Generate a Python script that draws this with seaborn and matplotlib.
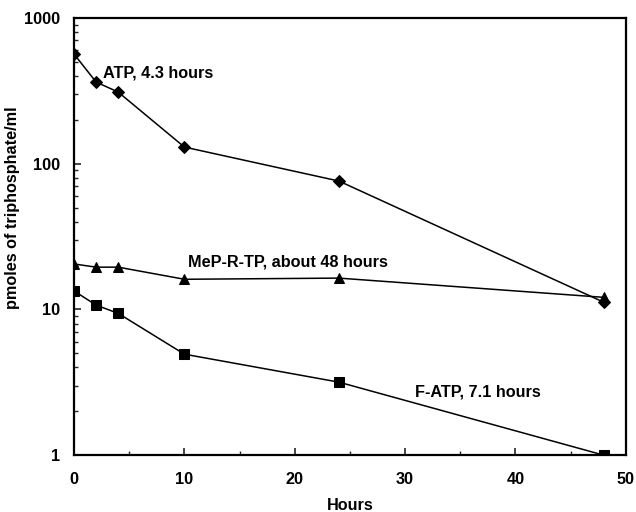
import matplotlib
matplotlib.use("Agg")
import matplotlib.pyplot as plt
import matplotlib.ticker as mticker
import seaborn as sns
import pandas as pd

sns.set_theme(style="ticks")
plt.rcParams['font.family'] = ['Liberation Sans', 'DejaVu Sans']

# data
hours = [0, 2, 4, 10, 24, 48]
atp = [565, 363, 310, 130, 76, 11.2]
mep_r_tp = [20.5, 19.5, 19.5, 16.1, 16.4, 12.1]
f_atp = [13.4, 10.7, 9.4, 4.93, 3.17, 1.0]

series_names = ["ATP", "MeP-R-TP", "F-ATP"]
series_values = [atp, mep_r_tp, f_atp]
series_markers = ["D", "^", "s"]
series_sizes = [6, 7, 7]
labels = ["ATP, 4.3 hours", "MeP-R-TP, about 48 hours", "F-ATP, 7.1 hours"]
label_pos = [(2.65, 419), (10.3, 21.1), (30.9, 2.71)]

fs = 11.7

fig = plt.figure(figsize=(6.36, 5.12), dpi=100)
ax = fig.add_axes([0.1164, 0.111, 0.8676, 0.854])

for name, vals, mk, ms in zip(series_names, series_values, series_markers, series_sizes):
    df = pd.DataFrame({"Hours": hours, "value": vals})
    sns.lineplot(data=df, x="Hours", y="value", ax=ax, color="black",
                 linewidth=1.1, marker=mk, markersize=ms,
                 markeredgecolor="black", markerfacecolor="black")

for txt, (x, y) in zip(labels, label_pos):
    ax.text(x, y, txt, fontsize=fs, fontweight="bold", va="center", ha="left", color="black")

ax.set_yscale("log")
ax.set_xlim(0, 50)
ax.set_ylim(1, 1000)
ax.set_xticks([0, 10, 20, 30, 40, 50])
ax.xaxis.set_minor_locator(mticker.MultipleLocator(5))
ax.yaxis.set_major_formatter(mticker.FuncFormatter(lambda v, p: f"{v:g}"))
ax.yaxis.set_minor_formatter(mticker.NullFormatter())

ax.tick_params(axis="both", which="major", direction="in", length=5, width=1.2,
               labelsize=fs, pad=12, labelcolor="black")
ax.tick_params(axis="both", which="minor", direction="in", length=3, width=1.0)
for lab in ax.get_xticklabels() + ax.get_yticklabels():
    lab.set_fontweight("bold")
ax.tick_params(axis="y", pad=10)

for sp in ax.spines.values():
    sp.set_linewidth(1.6)
    sp.set_color("black")

ax.set_xlabel("Hours", fontsize=fs, fontweight="bold", labelpad=8, color="black")
ax.set_ylabel("pmoles of triphosphate/ml", fontsize=fs, fontweight="bold", color="black")
ax.yaxis.set_label_coords(-0.098, 0.565)

fig.savefig("out.png", dpi=100)
